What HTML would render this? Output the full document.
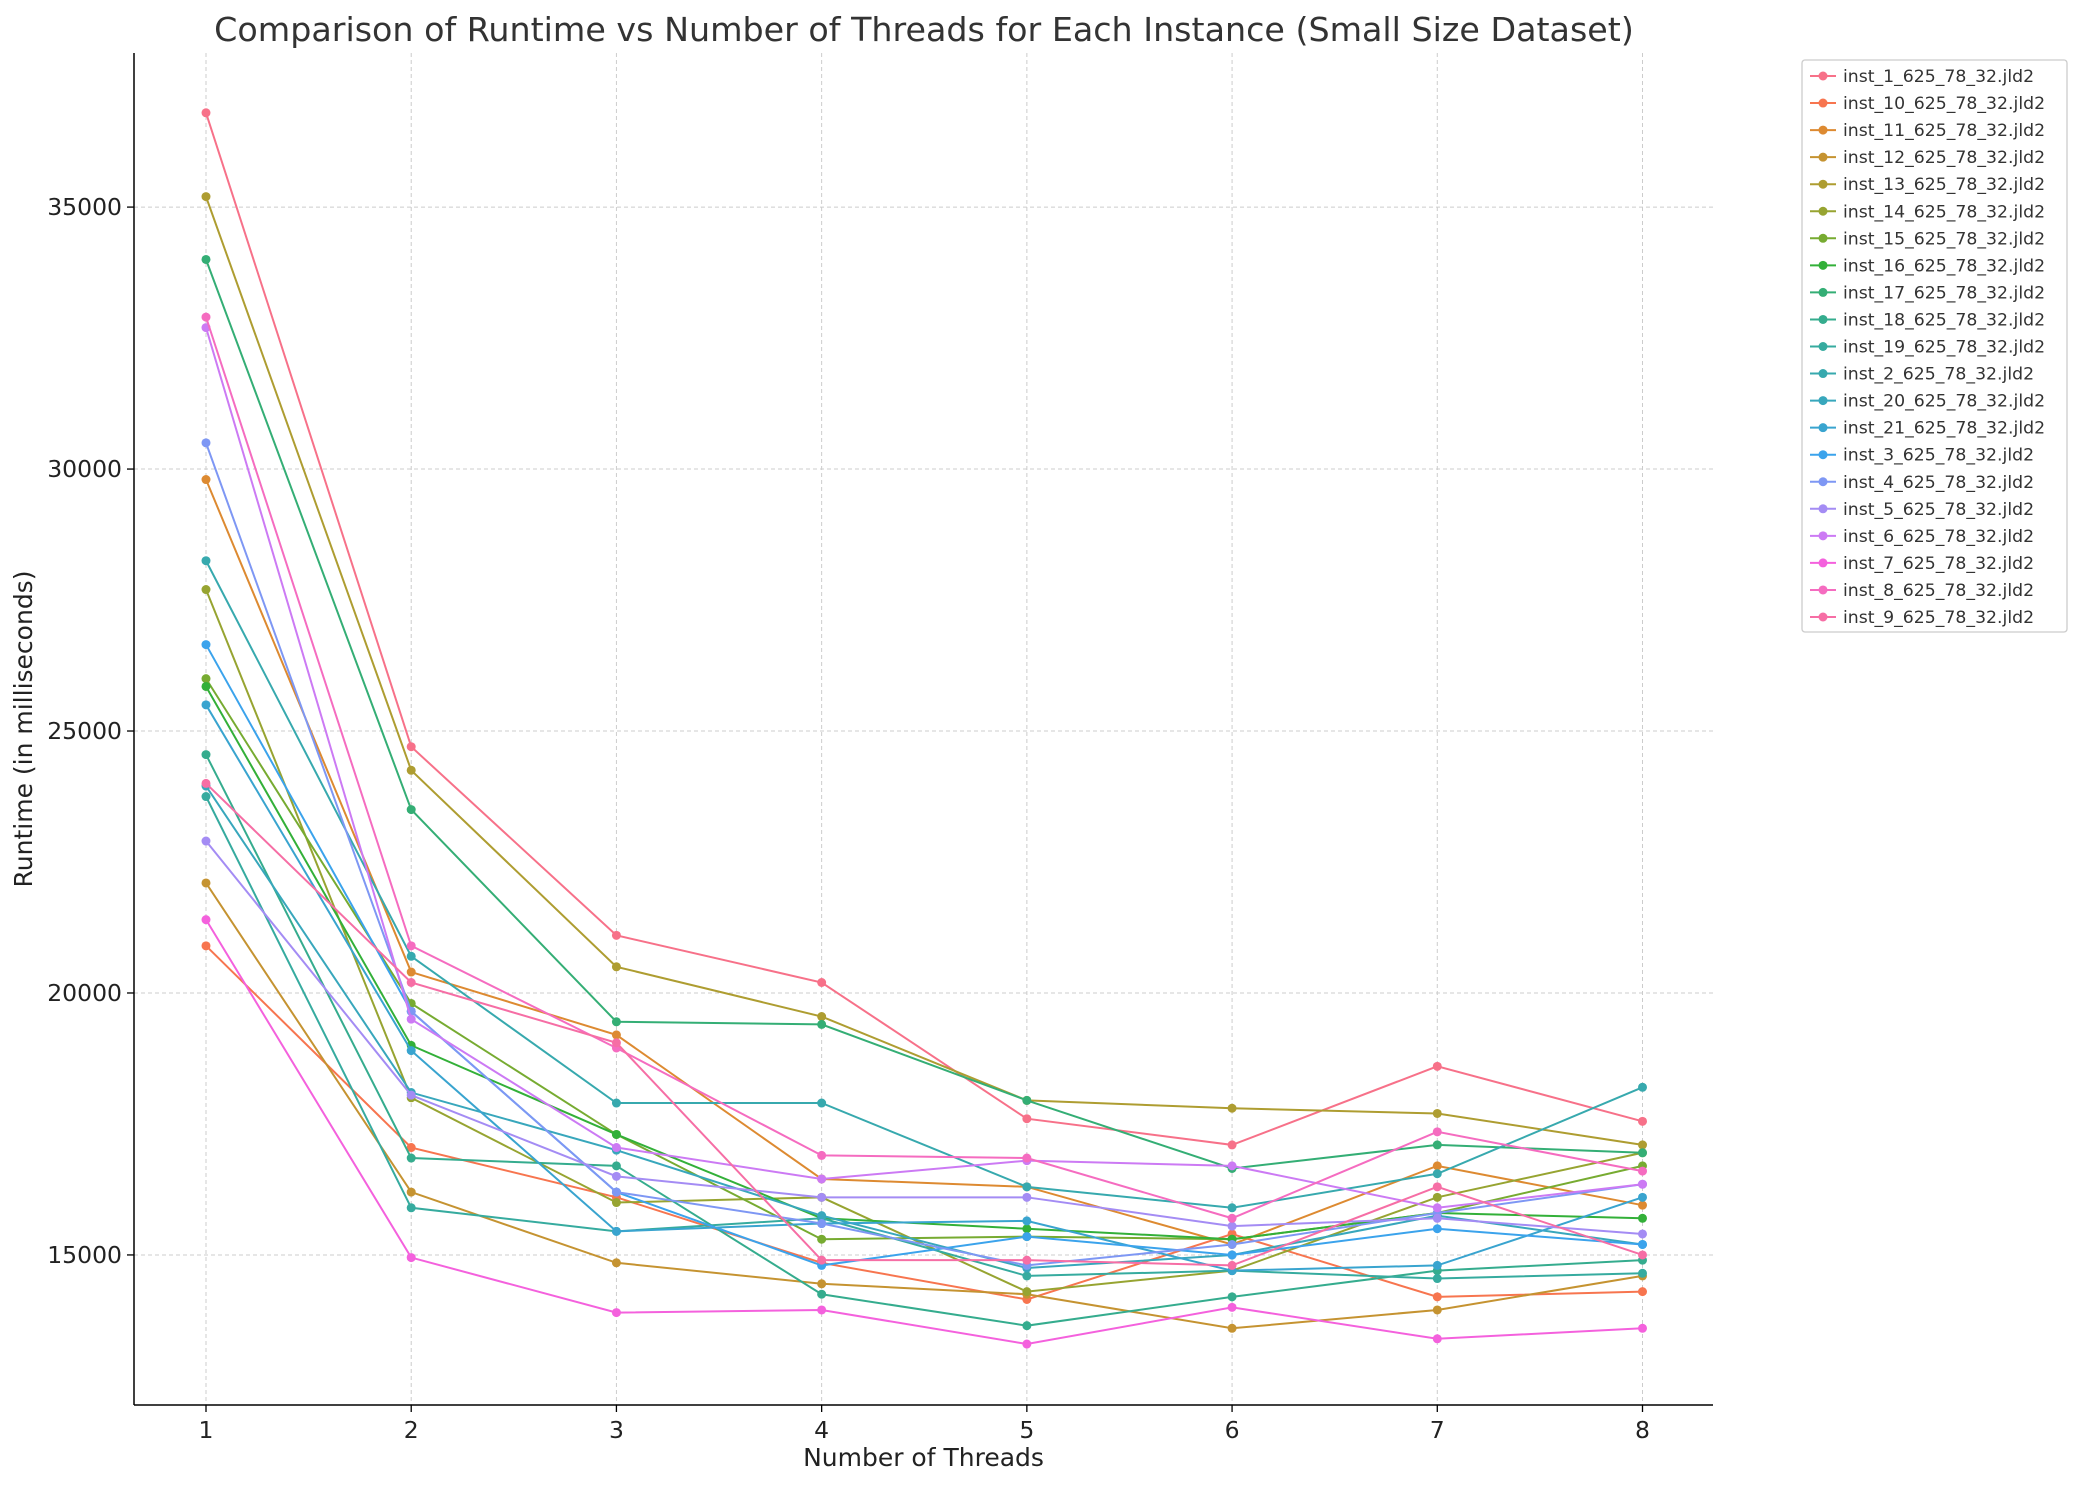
<!DOCTYPE html>
<html><head><meta charset="utf-8"><style>
html,body{margin:0;padding:0;background:#fff;}
svg{display:block;font-family:"DejaVu Sans","Liberation Sans",sans-serif;}
</style></head><body>
<svg id="chart" width="2082" height="1485" viewBox="0 0 2082 1485" xmlns="http://www.w3.org/2000/svg">
<text x="924" y="41" font-size="33.3" text-anchor="middle" fill="#333">Comparison of Runtime vs Number of Threads for Each Instance (Small Size Dataset)</text>
<g id="grid"></g><g id="series"></g><g id="axes"></g><g id="legend"></g>
</svg>
<script>
const threads = [1,2,3,4,5,6,7,8];
const yTicks = [15000,20000,25000,30000,35000];
const names = ["inst_1_625_78_32.jld2","inst_10_625_78_32.jld2","inst_11_625_78_32.jld2","inst_12_625_78_32.jld2","inst_13_625_78_32.jld2","inst_14_625_78_32.jld2","inst_15_625_78_32.jld2","inst_16_625_78_32.jld2","inst_17_625_78_32.jld2","inst_18_625_78_32.jld2","inst_19_625_78_32.jld2","inst_2_625_78_32.jld2","inst_20_625_78_32.jld2","inst_21_625_78_32.jld2","inst_3_625_78_32.jld2","inst_4_625_78_32.jld2","inst_5_625_78_32.jld2","inst_6_625_78_32.jld2","inst_7_625_78_32.jld2","inst_8_625_78_32.jld2","inst_9_625_78_32.jld2"];
const colors = ["#f77189","#f7754f","#dd8a31","#c59331","#ae9d31","#97a431","#77ab31","#33b039","#34ae75","#35ac8e","#36ab9f","#37a9ae","#38a7bc","#39a4cf","#3ba3ec","#7e97f4","#a48cf4","#cc7af4","#f461dd","#f56cc0","#f66ea5"];
const inst_1  = [36800,24700,21100,20200,17600,17100,18600,17550];
const inst_10 = [20900,17050,16100,14850,14150,15400,14200,14300];
const inst_11 = [29800,20400,19200,16450,16300,15200,16700,15950];
const inst_12 = [22100,16200,14850,14450,14250,13600,13950,14600];
const inst_13 = [35200,24250,20500,19550,17950,17800,17700,17100];
const inst_14 = [27700,18000,16000,16100,14300,14700,16100,16950];
const inst_15 = [26000,19800,17300,15300,15350,15300,15800,16700];
const inst_16 = [25850,19000,17300,15700,15500,15300,15800,15700];
const inst_17 = [34000,23500,19450,19400,17950,16650,17100,16950];
const inst_18 = [24550,16850,16700,14250,13650,14200,14700,14900];
const inst_19 = [23750,15900,15450,15700,14600,14700,14550,14650];
const inst_2  = [28250,20700,17900,17900,16300,15900,16550,18200];
const inst_20 = [23950,18100,17000,15750,14750,15000,15750,15200];
const inst_21 = [25500,18900,15450,15600,15650,14700,14800,16100];
const inst_3  = [26650,19650,16200,14800,15350,15000,15500,15200];
const inst_4  = [30500,19650,16200,15600,14800,15200,15800,16350];
const inst_5  = [22900,18050,16500,16100,16100,15550,15700,15400];
const inst_6  = [32700,19500,17050,16450,16800,16700,15900,16350];
const inst_7  = [21400,14950,13900,13950,13300,14000,13400,13600];
const inst_8  = [32900,20900,18950,16900,16850,15700,17350,16600];
const inst_9  = [24000,20200,19050,14900,14900,14800,16300,15000];
const seriesValues = [inst_1,inst_10,inst_11,inst_12,inst_13,inst_14,inst_15,inst_16,inst_17,inst_18,inst_19,inst_2,inst_20,inst_21,inst_3,inst_4,inst_5,inst_6,inst_7,inst_8,inst_9];

const NS="http://www.w3.org/2000/svg";
const L=134,R=1713,T=53,B=1405;
const xS=t=>206+(t-1)*(1642.5-206)/7;
const yS=v=>B-(v-12136)*(B-T)/(37941-12136);
function mk(tag,attrs,parent){const e=document.createElementNS(NS,tag);for(const k in attrs)e.setAttribute(k,attrs[k]);parent.appendChild(e);return e;}
const grid=document.getElementById('grid'),axes=document.getElementById('axes'),ser=document.getElementById('series'),leg=document.getElementById('legend');
threads.forEach(t=>{
  const g=mk('line',{x1:xS(t),x2:xS(t),y1:T,y2:B,stroke:'#ccc','stroke-width':1,'stroke-dasharray':'4,3'},grid);
  
  
  mk('line',{x1:xS(t),x2:xS(t),y1:B,y2:B+7,stroke:'#000','stroke-width':1.3},axes);
  const tx=mk('text',{x:xS(t),y:B+33,'font-size':23.5,'text-anchor':'middle',fill:'#222'},axes);tx.textContent=t;
  
  
});
yTicks.forEach(v=>{
  const g=mk('line',{x1:L,x2:R,y1:yS(v),y2:yS(v),stroke:'#ccc','stroke-width':1,'stroke-dasharray':'4,3'},grid);
  
  
  mk('line',{x1:L-7,x2:L,y1:yS(v),y2:yS(v),stroke:'#000','stroke-width':1.3},axes);
  const tx=mk('text',{x:L-12,y:yS(v)+8,'font-size':23.5,'text-anchor':'end',fill:'#222'},axes);tx.textContent=v;
  
  
});
mk('line',{x1:L,x2:L,y1:T,y2:B,stroke:'#000','stroke-width':1.5},axes);
mk('line',{x1:L,x2:R,y1:B,y2:B,stroke:'#000','stroke-width':1.5},axes);
let xl=mk('text',{x:(L+R)/2,y:1466,'font-size':25,'text-anchor':'middle',fill:'#222'},axes);xl.textContent='Number of Threads';


let yl=mk('text',{x:0,y:0,'font-size':25,'text-anchor':'middle',fill:'#222',transform:'translate(32,729) rotate(-90)'},axes);yl.textContent='Runtime (in milliseconds)';


seriesValues.forEach((vals,i)=>{
  const g=mk('g',{},ser);
  
  
  mk('polyline',{points:vals.map((v,j)=>xS(threads[j])+','+yS(v)).join(' '),fill:'none',stroke:colors[i],'stroke-width':2},g);
  vals.forEach((v,j)=>{
    const c=mk('circle',{cx:xS(threads[j]),cy:yS(v),r:4.5,fill:colors[i]},g);
    
    
  });
});
const box=mk('rect',{x:1802,y:60,width:265,height:572,fill:'#fff',stroke:'#ccc','stroke-width':1.3,rx:3},leg);


names.forEach((n,i)=>{
  const y=76+i*27.05;
  const g=mk('g',{},leg);
  
  
  mk('line',{x1:1810,x2:1836,y1:y,y2:y,stroke:colors[i],'stroke-width':2},g);
  mk('circle',{cx:1823,cy:y,r:4.5,fill:colors[i]},g);
  const t=mk('text',{x:1843,y:y+6,'font-size':17.3,fill:'#333'},g);t.textContent=n;
});
</script>
</body></html>
